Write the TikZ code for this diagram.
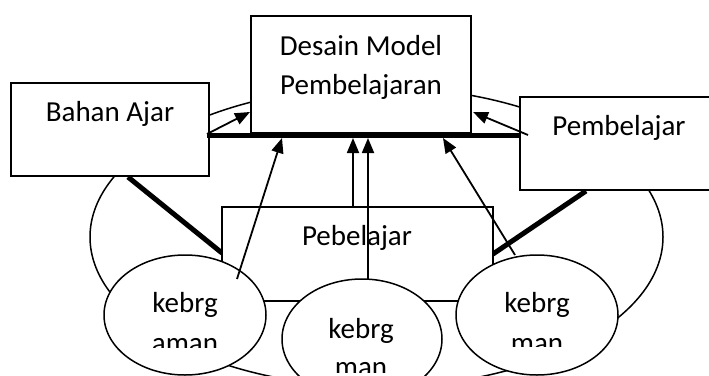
\documentclass[tikz,border=0pt]{standalone}
\usepackage{fontspec}
\setmainfont{Carlito}
\usetikzlibrary{arrows.meta,shapes.geometric}
\begin{document}
\begin{tikzpicture}[x=1pt,y=-1pt,
  boxshape/.style={draw, rectangle, line width=1.5pt, fill=white, inner sep=0pt},
  oval/.style={draw, ellipse, line width=1.5pt, fill=white, inner sep=0pt,
    minimum width=162pt, minimum height=120pt},
  lbl/.style={font=\fontsize{29}{35}\selectfont, inner sep=0pt, anchor=base},
  heavy/.style={line width=5pt},
  link/.style={line width=1.8pt, -{Triangle[length=15pt,width=12pt]}}]
\useasboundingbox (0,0) rectangle (709,375);
\clip (0,0) rectangle (709,375);

% background ring
\node[draw, ellipse, line width=1.5pt, inner sep=0pt,
      minimum width=573pt, minimum height=300pt] (ring) at (376.5,237) {};

% upper boxes
\node[boxshape, minimum width=198pt, minimum height=93pt] (bahan) at (110,129.5) {};
\node[boxshape, minimum width=220pt, minimum height=117pt] (desain) at (361,74.5) {};
\node[boxshape, minimum width=196pt, minimum height=93pt] (pemb) at (618,143.5) {};

% anchor points for the connectors
\coordinate (barL) at (207,135);
\coordinate (barR) at (521,135);
\coordinate (bahanFoot) at (128,177);
\coordinate (pembFoot) at (586,191);
\coordinate (cornerL) at (222,253);
\coordinate (cornerR) at (493,254);

% heavy links
\draw[heavy] (barL) -- (barR);
\draw[heavy] (bahanFoot) -- (cornerL);
\draw[heavy] (pembFoot) -- (cornerR);

% learner box
\node[boxshape, minimum width=271pt, minimum height=94pt] (pebel) at (357.5,254) {};

% small ovals
\node[oval] (ovL) at (185,315) {};
\node[oval, minimum width=160pt] (ovM) at (362,339) {};
\node[oval] (ovR) at (537,315) {};

% labels
\node[lbl] (t1) at (361,55) {Desain Model};
\node[lbl] (t2) at (361,94) {Pembelajaran};
\node[lbl] (t3) at (110,121) {Bahan Ajar};
\node[lbl] (t4) at (619,135) {Pembelajar};
\node[lbl] (t5) at (357,245) {Pebelajar};
\node[lbl] (k1) at (185,312) {kebrg};
\node[lbl] (k2) at (361,338) {kebrg};
\node[lbl] (k3) at (537,312) {kebrg};
\begin{scope}
  \clip (100,320) rectangle (270,347);
  \node[lbl] (k1b) at (185,352) {aman};
\end{scope}
\begin{scope}
  \clip (280,345) rectangle (445,372);
  \node[lbl] (k2b) at (361,376) {man};
\end{scope}
\begin{scope}
  \clip (455,320) rectangle (620,346);
  \node[lbl] (k3b) at (537,352) {man};
\end{scope}

% arrows into the design box
\coordinate (a1s) at (207,134);
\coordinate (a1e) at (250,112);
\coordinate (a2s) at (528,135);
\coordinate (a2e) at (473,112);
\coordinate (a3s) at (237,279);
\coordinate (a3e) at (282,138);
\coordinate (a4s) at (353,207);
\coordinate (a4e) at (353,138);
\coordinate (a5s) at (368,279);
\coordinate (a5e) at (368,138);
\coordinate (a6s) at (515,255);
\coordinate (a6e) at (443,138);
\draw[link] (a1s) -- (a1e);
\draw[link] (a2s) -- (a2e);
\draw[link] (a3s) -- (a3e);
\draw[link] (a4s) -- (a4e);
\draw[link] (a5s) -- (a5e);
\draw[link] (a6s) -- (a6e);
\end{tikzpicture}
\end{document}
